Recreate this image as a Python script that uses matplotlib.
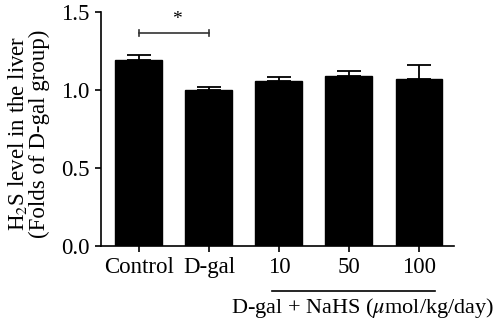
import numpy as np
import matplotlib.pyplot as plt
import matplotlib.transforms as mtransforms

plt.rcParams['font.family'] = ['Liberation Serif', 'DejaVu Serif']
plt.rcParams['mathtext.fontset'] = 'stix'

# data
groups = ['Control', 'D-gal', '10', '50', '100']
means = [1.19, 1.00, 1.058, 1.092, 1.069]
sem = [0.034, 0.02, 0.027, 0.03, 0.091]

fig = plt.figure(figsize=(5.0, 3.21), dpi=100)
ax = fig.add_axes([0.202, 0.2336, 0.706, 0.729])

x = np.arange(len(groups))
ax.bar(x, means, width=0.67, color='black', edgecolor='black', zorder=2)
ax.errorbar(x, means, yerr=[np.zeros(len(sem)), sem], fmt='none', ecolor='black',
            elinewidth=1.3, capsize=8.5, capthick=1.3, zorder=1)

ax.set_xlim(-0.54, 4.5)
ax.set_ylim(0, 1.5)
ax.set_yticks([0.0, 0.5, 1.0, 1.5])
ax.set_yticklabels(['0.0', '0.5', '1.0', '1.5'])
ax.set_xticks(x)
ax.set_xticklabels(groups)
for s in ['top', 'right']:
    ax.spines[s].set_visible(False)
for s in ['left', 'bottom']:
    ax.spines[s].set_linewidth(1.2)
ax.tick_params(direction='out', length=4, width=1.2, labelsize=16.5, pad=4)

ax.set_ylabel('H$_2$S level in the liver\n(Folds of D-gal group)', fontsize=16.5,
              linespacing=1.0)
ax.yaxis.set_label_coords(-0.145, 0.48)

# significance bracket
ax.plot([0, 1], [1.365, 1.365], color='#333333', lw=1.2, clip_on=False)
ax.plot([0, 0], [1.345, 1.385], color='#333333', lw=1.2, clip_on=False)
ax.plot([1, 1], [1.345, 1.385], color='#333333', lw=1.2, clip_on=False)
ax.text(0.55, 1.395, '*', ha='center', va='bottom', fontsize=14)

# group line under the NaHS doses
trans = mtransforms.blended_transform_factory(ax.transData, ax.transAxes)
ax.plot([1.9, 4.23], [-0.192, -0.192], color='black', lw=1.2, transform=trans, clip_on=False)
ax.text(3.19, -0.265, r'D-gal + NaHS ($\mu$mol/kg/day)', ha='center', va='center',
        fontsize=16, transform=trans)

fig.savefig('out.png', dpi=100)
